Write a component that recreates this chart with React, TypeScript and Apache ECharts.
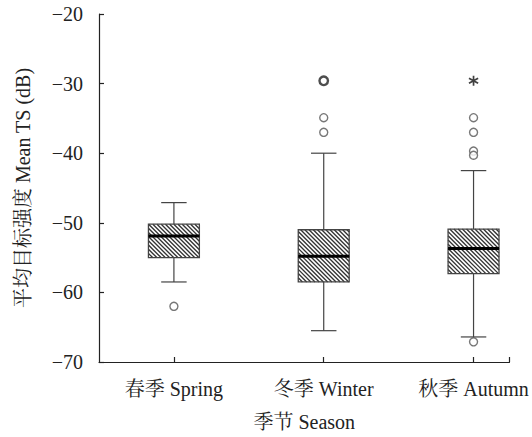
import React, { useEffect, useRef } from "react";
import * as echarts from "echarts";

const categories = ["春季 Spring", "冬季 Winter", "秋季 Autumn"];
const boxMin = [-58.5, -65.5, -66.4];
const boxQ1 = [-55.0, -58.5, -57.3];
const boxMedian = [-51.9, -54.8, -53.7];
const boxQ3 = [-50.2, -51.0, -50.9];
const boxMax = [-47.1, -40.0, -42.5];
// outliers: [category position, value]
const outliers = [
  [1, -62.0],
  [2, -34.9],
  [2, -37.0],
  [3, -34.9],
  [3, -37.0],
  [3, -39.7],
  [3, -40.3],
  [3, -67.1],
];
const repeatedOutliers = [[2, -29.6]];
const extremeOutliers = [[3, -29.6]];
const yTicks = [-70, -60, -50, -40, -30, -20];

const FONT = "'Liberation Serif', 'Noto Serif CJK SC', 'Noto Sans CJK SC', serif";

function asteriskPath(): string {
  const arms = 3;
  const L = 10;
  const w = 1.6;
  let d = "";
  for (let i = 0; i < arms; i++) {
    const a = (Math.PI / arms) * i + Math.PI / 2;
    const c = Math.cos(a), s = Math.sin(a);
    const px = -s * w, py = c * w;
    const pts = [
      [L * c + px, L * s + py],
      [L * c - px, L * s - py],
      [-L * c - px, -L * s - py],
      [-L * c + px, -L * s + py],
    ];
    d += "M" + pts.map((p) => p[0].toFixed(2) + "," + p[1].toFixed(2)).join("L") + "Z";
  }
  return "path://" + d;
}

export default function App() {
  const ref = useRef<HTMLDivElement>(null);
  useEffect(() => {
    if (!ref.current) return;
    const chart = echarts.init(ref.current, undefined, { renderer: "svg" });
    const boxData = categories.map((_, i) => [
      i + 1,
      boxMin[i],
      boxQ1[i],
      boxMedian[i],
      boxQ3[i],
      boxMax[i],
    ]);
    const stroke = "#444";
    const renderItem = (params: any, api: any) => {
      const x = api.value(0);
      const vMin = api.value(1), vQ1 = api.value(2), vMed = api.value(3), vQ3 = api.value(4), vMax = api.value(5);
      const unit = api.size([1, 0])[0];
      const bw = unit * 0.34;
      const cw = unit * 0.17;
      const pMin = api.coord([x, vMin]);
      const pQ1 = api.coord([x, vQ1]);
      const pMed = api.coord([x, vMed]);
      const pQ3 = api.coord([x, vQ3]);
      const pMax = api.coord([x, vMax]);
      const cx = pMin[0];
      const x0 = cx - bw / 2;
      const y0 = pQ3[1];
      const h = pQ1[1] - pQ3[1];
      const w = bw;
      const children: any[] = [];
      // whiskers
      children.push({ type: "line", shape: { x1: cx, y1: pMax[1], x2: cx, y2: pQ3[1] }, style: { stroke, lineWidth: 1.2 } });
      children.push({ type: "line", shape: { x1: cx, y1: pQ1[1], x2: cx, y2: pMin[1] }, style: { stroke, lineWidth: 1.2 } });
      children.push({ type: "line", shape: { x1: cx - cw / 2, y1: pMax[1], x2: cx + cw / 2, y2: pMax[1] }, style: { stroke, lineWidth: 1.2 } });
      children.push({ type: "line", shape: { x1: cx - cw / 2, y1: pMin[1], x2: cx + cw / 2, y2: pMin[1] }, style: { stroke, lineWidth: 1.2 } });
      // box background
      children.push({ type: "rect", shape: { x: x0, y: y0, width: w, height: h }, style: { fill: "#fff", stroke: "none" } });
      // hatch lines "\" direction
      const s = 4.2;
      for (let c = -h; c < w; c += s) {
        const t0 = Math.max(0, -c);
        const t1 = Math.min(h, w - c);
        if (t1 > t0) {
          children.push({
            type: "line",
            shape: { x1: x0 + c + t0, y1: y0 + t0, x2: x0 + c + t1, y2: y0 + t1 },
            style: { stroke: "#333", lineWidth: 1.35 },
          });
        }
      }
      // box outline
      children.push({ type: "rect", shape: { x: x0, y: y0, width: w, height: h }, style: { fill: "none", stroke, lineWidth: 1.3 } });
      // median
      children.push({ type: "line", shape: { x1: x0, y1: pMed[1], x2: x0 + w, y2: pMed[1] }, style: { stroke: "#000", lineWidth: 3 } });
      return { type: "group", children };
    };

    chart.setOption({
      animation: false,
      backgroundColor: "#fff",
      grid: { left: 99, top: 14, right: 22.5, bottom: 75 },
      xAxis: {
        type: "value",
        min: 0.5,
        max: 3.24,
        splitLine: { show: false },
        axisLine: { show: true, onZero: false, lineStyle: { color: "#222", width: 1.2 } },
        axisTick: { show: true, inside: true, length: 5, customValues: [1, 2, 3, 3.24], lineStyle: { color: "#222", width: 1.2 } },
        axisLabel: {
          customValues: [1, 2, 3],
          formatter: (v: number) => categories[Math.round(v) - 1] ?? "",
          fontFamily: FONT,
          fontSize: 20,
          color: "#222",
          margin: 17,
        },
        name: "季节 Season",
        nameLocation: "middle",
        nameGap: 50,
        nameTextStyle: { fontFamily: FONT, fontSize: 20, color: "#222" },
      },
      yAxis: {
        type: "value",
        min: -70,
        max: -20,
        interval: 10,
        splitLine: { show: false },
        axisLine: { show: true, onZero: false, lineStyle: { color: "#222", width: 1.2 } },
        axisTick: { show: true, inside: true, length: 5, lineStyle: { color: "#222", width: 1.2 } },
        axisLabel: {
          formatter: (v: number) => (yTicks.includes(v) ? String(v).replace("-", "\u2212") : ""),
          fontFamily: FONT,
          fontSize: 20,
          color: "#222",
          margin: 16,
        },
        name: "平均目标强度 Mean TS (dB)",
        nameLocation: "middle",
        nameGap: 66,
        nameRotate: 90,
        nameTextStyle: { fontFamily: FONT, fontSize: 20, color: "#222" },
      },
      series: [
        {
          type: "custom",
          renderItem,
          data: boxData,
          encode: { x: 0, y: [1, 2, 3, 4, 5] },
          clip: false,
        },
        {
          type: "scatter",
          data: outliers,
          symbol: "circle",
          symbolSize: 8,
          itemStyle: { color: "#fff", borderColor: "#555", borderWidth: 1.4 },
        },
        {
          type: "scatter",
          data: repeatedOutliers,
          symbol: "circle",
          symbolSize: 8.5,
          itemStyle: { color: "#fff", borderColor: "#222", borderWidth: 2.4 },
        },
        {
          type: "scatter",
          data: extremeOutliers,
          symbol: asteriskPath(),
          symbolSize: 10,
          itemStyle: { color: "#111" },
        },
      ],
    });
    return () => chart.dispose();
  }, []);
  return (
    <div
      ref={ref}
      style={{ position: "fixed", left: 0, top: 0, width: 532, height: 437 }}
    />
  );
}
